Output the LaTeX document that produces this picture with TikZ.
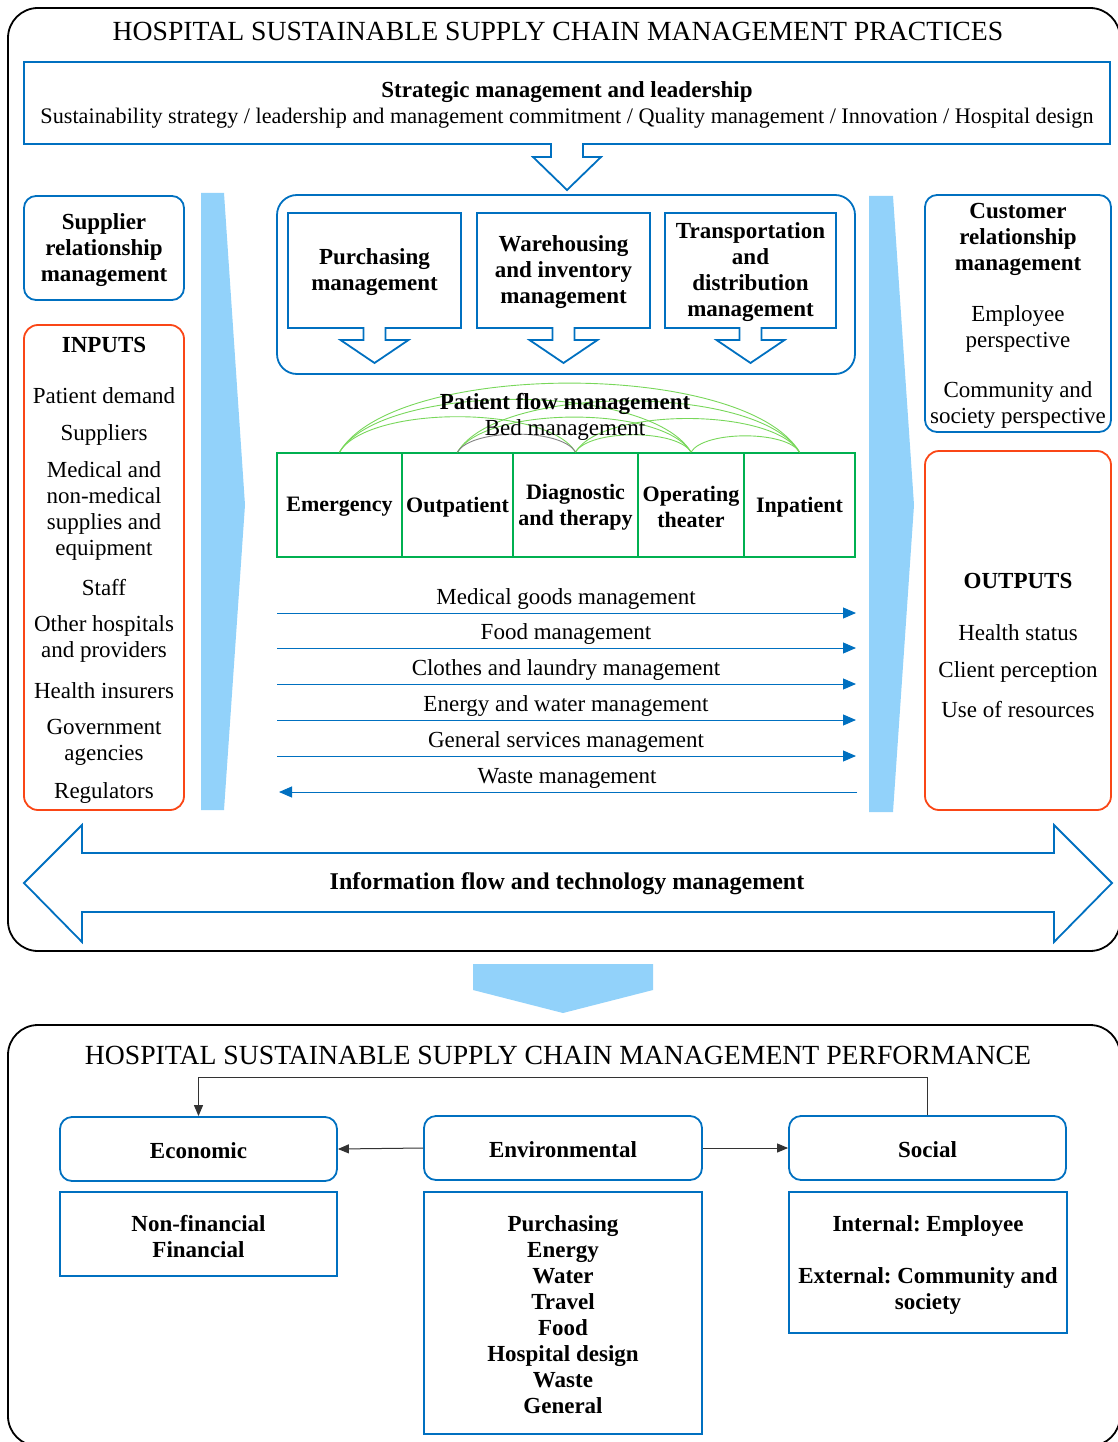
\documentclass[tikz,border=0pt]{standalone}
\usepackage{fontspec}
\setmainfont{Liberation Serif}
\usetikzlibrary{arrows.meta,calc}
\definecolor{cblue}{RGB}{0,112,192}
\definecolor{cred}{RGB}{250,70,22}
\definecolor{cgreen}{RGB}{0,176,80}
\definecolor{carc}{RGB}{120,215,90}
\definecolor{clight}{RGB}{146,210,250}
\frenchspacing
\begin{document}
\begin{tikzpicture}[x=1pt,y=-1pt,
 rfont/.style={font=\fontsize{23}{26}\selectfont},
 bfont/.style={font=\fontsize{23}{26}\selectfont\bfseries},
 tx/.style={rfont, inner sep=0pt, align=center, yshift=-2pt},
 bt/.style={bfont, inner sep=0pt, align=center, yshift=-2pt},
 ttl/.style={inner sep=0pt, font=\fontsize{27.7}{30}\selectfont, yshift=-1pt},
 bluebox/.style={draw=cblue, line width=1.8pt},
 rbox/.style={draw=cblue, line width=1.8pt, rounded corners=12},
 redbox/.style={draw=cred, line width=1.8pt, rounded corners=14},
 cell/.style={draw=cgreen, line width=1.8pt, minimum height=104, inner sep=0pt},
 flow/.style={draw=cblue, line width=1pt, -{Triangle[length=13pt,width=11pt]}},
 arcline/.style={draw=carc, line width=0.9pt},
 blk/.style={draw=black!80, line width=1pt, -{Triangle[length=11pt,width=9pt]}},
 frame/.style={draw=black, line width=1.8pt, rounded corners=30},
]
\useasboundingbox (0,0) rectangle (1118,1442);
% ---------- upper frame ----------
\draw[frame] (8,8) rectangle (1120,951);
\node[ttl] (t1) at (558,30) {HOSPITAL SUSTAINABLE SUPPLY CHAIN MANAGEMENT PRACTICES};
% strategic box with arrow
\draw[bluebox] (24,62) -- (1110,62) -- (1110,144) -- (583,144) -- (583,157) -- (601,157) -- (567,190) -- (533,157) -- (551,157) -- (551,144) -- (24,144) -- cycle;
\node[bt] (strat) at (567,90) {Strategic management and leadership};
\node[tx, font=\fontsize{22.2}{26}\selectfont] (stratsub) at (567,116) {Sustainability strategy / leadership and management commitment / Quality management / Innovation / Hospital design};
% light blue side arrows
\fill[clight] (201,193) -- (224,193) -- (245,505) -- (224,810) -- (201,810) -- cycle;
\fill[clight] (869,196) -- (893,196) -- (914,505) -- (893,812) -- (869,812) -- cycle;
% left column
\node[rbox, minimum width=160, minimum height=104] (srmbox) at (104,248) {};
\node[bt] (srm) at (104,248) {Supplier\\relationship\\management};
\node[redbox, minimum width=160, minimum height=485] (inbox) at (104,567.5) {};
\node[bt] (inputs) at (104,343) {INPUTS};
\node[tx] (in1) at (104,394) {Patient demand};
\node[tx] (in2) at (104,433) {Suppliers};
\node[tx] (in3) at (104,509) {Medical and\\non-medical\\supplies and\\equipment};
\node[tx] (in4) at (104,586) {Staff};
\node[tx] (in5) at (104,637) {Other hospitals\\and providers};
\node[tx] (in6) at (104,689) {Health insurers};
\node[tx] (in7) at (104,740) {Government\\agencies};
\node[tx] (in8) at (104,791) {Regulators};
% right column
\node[rbox, minimum width=186, minimum height=237] (crmbox) at (1018,313.5) {};
\node[bt] (crm) at (1018,237) {Customer\\relationship\\management};
\node[tx] (emp) at (1018,327) {Employee\\perspective};
\node[tx] (com) at (1018,403) {Community and\\society perspective};
\node[redbox, minimum width=186, minimum height=359] (outbox) at (1018,630.5) {};
\node[bt] (outputs) at (1018,579) {OUTPUTS};
\node[tx] (out1) at (1018,631) {Health status};
\node[tx] (out2) at (1018,670) {Client perception};
\node[tx] (out3) at (1018,708) {Use of resources};
% central top panel
\draw[bluebox, rounded corners=20] (277,195) rectangle (855,374);
\foreach \l/\r in {288/461, 477/650, 665/836} {
  \pgfmathsetmacro\c{(\l+\r)/2}
  \draw[bluebox] (\l,213) -- (\r,213) -- (\r,328) -- (\c+11,328) -- (\c+11,340) -- (\c+34,340) -- (\c,363) -- (\c-34,340) -- (\c-11,340) -- (\c-11,328) -- (\l,328) -- cycle;
}
\node[bt] (pur) at (374.5,270) {Purchasing\\management};
\node[bt] (war) at (563.5,270) {Warehousing\\and inventory\\management};
\node[bt] (tra) at (750.5,270) {Transportation\\and\\distribution\\management};
% patient flow
\node[cell, minimum width=125] (em) at (339.5,505) {};
\node[cell, minimum width=111] (op) at (457.5,505) {};
\node[cell, minimum width=125] (di) at (575.5,505) {};
\node[cell, minimum width=106] (ot) at (691,505) {};
\node[cell, minimum width=111] (ip) at (799.5,505) {};
\node[bt, font=\fontsize{22}{26}\selectfont\bfseries] (emt) at (em.center) {Emergency};
\node[bt, font=\fontsize{22}{26}\selectfont\bfseries] (opt) at (op.center) {Outpatient};
\node[bt, font=\fontsize{22}{26}\selectfont\bfseries] (dit) at (di.center) {Diagnostic\\and therapy};
\node[bt, font=\fontsize{22}{26}\selectfont\bfseries] (ott) at (ot.center) {Operating\\theater};
\node[bt, font=\fontsize{22}{26}\selectfont\bfseries] (ipt) at (ip.center) {Inpatient};
\foreach \a/\b/\d in {em/di/236, em/ot/351.5, em/ip/460, op/ot/233.5, op/ip/342, di/ot/115.5, di/ip/224, ot/ip/108.5} {
  \draw[arcline] (\a.north) .. controls +(0.12*\d,-0.2*\d) and +(-0.12*\d,-0.2*\d) .. (\b.north);
}
\draw[draw=gray, line width=0.9pt] (op.north) .. controls +(14,-24) and +(-14,-24) .. (di.north);
\node[bt] (pfm) at (565,402) {Patient flow management};
\node[tx] (bed) at (565,428) {Bed management};
% flows
\foreach \y/\t/\n in {613/Medical goods management/f1, 648/Food management/f2, 684/Clothes and laundry management/f3, 720/Energy and water management/f4, 756/General services management/f5} {
  \coordinate (\n s) at (277,\y);
  \coordinate (\n e) at (856,\y);
  \draw[flow] (\n s) -- (\n e);
  \node[tx] (\n l) at (566,\y-16) {\t};
}
\coordinate (f6s) at (857,792);
\coordinate (f6e) at (279,792);
\draw[flow] (f6s) -- (f6e);
\node[tx] (f6l) at (567,776) {Waste management};
% information flow double arrow
\draw[bluebox] (24,883) -- (82,825) -- (82,853) -- (1054,853) -- (1054,825) -- (1112,883) -- (1054,942) -- (1054,912) -- (82,912) -- (82,942) -- cycle;
\node[bt, font=\fontsize{24}{26}\selectfont\bfseries] (info) at (567,882) {Information flow and technology management};
% big down arrow
\fill[clight] (473,964) -- (653,964) -- (653,990) -- (563,1013) -- (473,990) -- cycle;
% ---------- lower frame ----------
\draw[frame] (8,1025) rectangle (1120,1446);
\node[ttl] (t2) at (558,1054) {HOSPITAL SUSTAINABLE SUPPLY CHAIN MANAGEMENT PERFORMANCE};
\node[rbox, minimum width=277, minimum height=64] (eco) at (198.5,1149) {};
\node[rbox, minimum width=278, minimum height=64] (env) at (563,1148) {};
\node[rbox, minimum width=277, minimum height=64] (soc) at (927.5,1148) {};
\node[bt] (ecot) at (eco.center) {Economic};
\node[bt] (envt) at (env.center) {Environmental};
\node[bt] (soct) at (soc.center) {Social};
\draw[blk] (env.west) -- (eco.east);
\draw[blk] (env.east) -- (soc.west);
\draw[blk] (soc.north) -- ++(0,-38) -| (eco.north);
\node[bluebox, minimum width=277, minimum height=84] (ecod) at (198.5,1234) {};
\node[bluebox, minimum width=278, minimum height=242] (envd) at (563,1313) {};
\node[bluebox, minimum width=278, minimum height=141] (socd) at (928,1262.5) {};
\node[bt] (ecodt) at (ecod.center) {Non-financial\\Financial};
\node[bt] (envdt) at (envd.center) {Purchasing\\Energy\\Water\\Travel\\Food\\Hospital design\\Waste\\General};
\node[bt] (socdt) at (socd.center) {Internal: Employee\\[26pt]External: Community and\\society};
\end{tikzpicture}
\end{document}
